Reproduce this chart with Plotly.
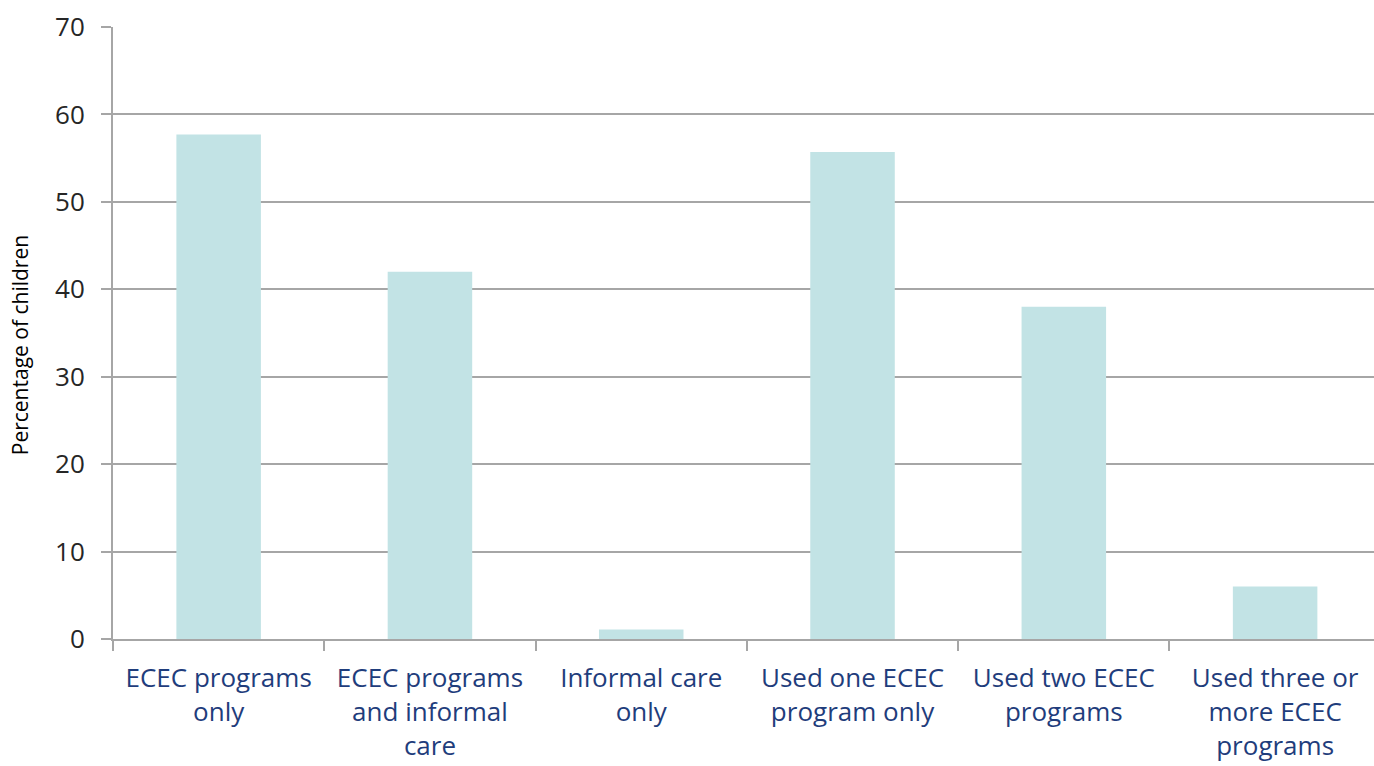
import plotly.graph_objects as go

# Care arrangement categories and share of children (%)
categories = [
    "ECEC programs<br>only",
    "ECEC programs<br>and informal<br>care",
    "Informal care<br>only",
    "Used one ECEC<br>program only",
    "Used two ECEC<br>programs",
    "Used three or<br>more ECEC<br>programs",
]
percentages = [57.7, 42.0, 1.1, 55.7, 38.0, 6.0]
y_ticks = [0, 10, 20, 30, 40, 50, 60, 70]

AXIS_GREY = "#A6A6A6"
BAR_COLOR = "#C2E3E5"
LABEL_BLUE = "#1F3D7C"

fig = go.Figure(
    go.Bar(
        x=list(range(len(categories))),
        y=percentages,
        width=0.4,
        marker=dict(color=BAR_COLOR, line=dict(width=0)),
        hoverinfo="skip",
    )
)

fig.update_layout(
    width=1374,
    height=766,
    margin=dict(l=113, r=0, t=27, b=127),
    paper_bgcolor="white",
    plot_bgcolor="white",
    showlegend=False,
    font=dict(family="Open Sans", color="#262626"),
)

fig.update_xaxes(
    type="linear",
    range=[-0.5, 5.468],
    tickmode="array",
    tickvals=list(range(len(categories))),
    ticktext=categories,
    showgrid=False,
    showline=True,
    linecolor=AXIS_GREY,
    linewidth=2,
    ticks="",
    tickfont=dict(family="Open Sans", size=26, color=LABEL_BLUE),
    ticklabelstandoff=15,
    zeroline=False,
)

# boundary tick marks between categories drawn as minor ticks
fig.update_xaxes(
    minor=dict(
        tickmode="array",
        tickvals=[i - 0.5 for i in range(len(categories) + 1)],
        ticks="outside",
        ticklen=10,
        tickwidth=2,
        tickcolor=AXIS_GREY,
        showgrid=False,
    )
)

fig.update_yaxes(
    range=[0, 70],
    tickmode="array",
    tickvals=y_ticks,
    showgrid=True,
    gridcolor=AXIS_GREY,
    gridwidth=2,
    showline=True,
    linecolor=AXIS_GREY,
    linewidth=2,
    ticks="outside",
    ticklen=10,
    tickwidth=2,
    tickcolor=AXIS_GREY,
    tickfont=dict(family="Open Sans", size=26, color="#262626"),
    ticklabelstandoff=11,
    zeroline=False,
)

# vertical axis title
fig.add_annotation(
    text="Percentage of children",
    textangle=-90,
    xref="paper",
    yref="paper",
    x=0,
    y=0.48,
    xshift=-93,
    xanchor="center",
    yanchor="middle",
    showarrow=False,
    font=dict(family="Open Sans", size=21, color="#000000"),
)

fig.write_html("out.html")
